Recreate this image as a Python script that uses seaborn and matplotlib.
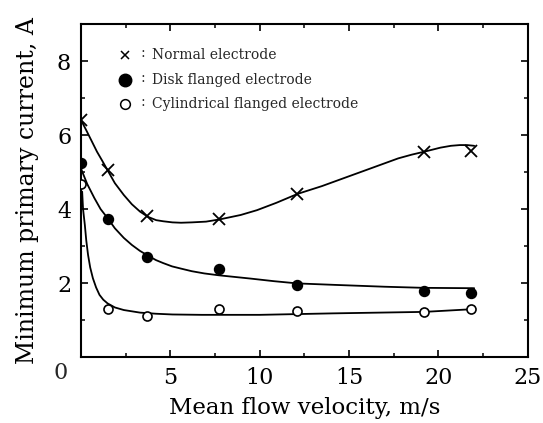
import matplotlib
matplotlib.use("Agg")
import matplotlib.pyplot as plt
import seaborn as sns
from matplotlib.ticker import MultipleLocator

# ---- data ----
velocity = [0.0, 1.5, 3.7, 7.7, 12.1, 19.2, 21.8]
normal = [6.41, 5.05, 3.82, 3.72, 4.41, 5.55, 5.57]
disk = [5.25, 3.72, 2.71, 2.37, 1.96, 1.78, 1.74]
cylindrical = [4.68, 1.29, 1.11, 1.29, 1.25, 1.22, 1.29]

# hand-drawn fitted curves
normal_curve_x = [0.0, 0.3, 0.58, 0.9, 1.2, 1.49, 1.9, 2.40, 2.85, 3.31, 3.75, 4.21,
                  4.6, 5.12, 5.6, 6.21, 7.0, 7.76, 8.94, 9.85, 10.94, 12.12, 13.48,
                  14.39, 15.93, 17.75, 18.5, 19.2, 19.7, 20.11, 20.7, 21.2, 21.6, 22.0]
normal_curve_y = [6.41, 6.13, 5.86, 5.55, 5.30, 5.05, 4.70, 4.38, 4.13, 3.93, 3.79,
                  3.70, 3.67, 3.64, 3.63, 3.64, 3.66, 3.72, 3.84, 3.97, 4.17, 4.41,
                  4.62, 4.78, 5.05, 5.37, 5.47, 5.55, 5.61, 5.66, 5.71, 5.73, 5.73,
                  5.71]
disk_curve_x = [0.0, 0.35, 0.75, 1.1, 1.5, 1.9, 2.4, 2.85, 3.3, 3.75, 4.2, 4.6, 5.1,
                5.6, 6.2, 6.9, 7.7, 8.5, 9.5, 10.8, 12.1, 14.2, 17.0, 19.2, 22.0]
disk_curve_y = [5.10, 4.68, 4.30, 4.00, 3.75, 3.48, 3.22, 3.03, 2.87, 2.74, 2.62,
                2.54, 2.45, 2.39, 2.32, 2.26, 2.21, 2.17, 2.12, 2.05, 1.99, 1.95,
                1.90, 1.87, 1.86]
cyl_curve_x = [0.07, 0.12, 0.22, 0.30, 0.40, 0.52, 0.67, 0.85, 1.04, 1.25, 1.49,
               1.9, 2.40, 3.31, 4.2, 5.12, 6.76, 10.0, 14.1, 19.2, 21.8]
cyl_curve_y = [4.47, 4.00, 3.57, 3.15, 2.76, 2.42, 2.13, 1.88, 1.68, 1.55, 1.45,
               1.34, 1.27, 1.20, 1.17, 1.15, 1.14, 1.14, 1.18, 1.22, 1.29]

legend_labels = ["Normal electrode", "Disk flanged electrode",
                 "Cylindrical flanged electrode"]
x_ticks = [5, 10, 15, 20, 25]
y_ticks = [2, 4, 6, 8]

sns.set_theme(style="ticks")
plt.rcParams["font.family"] = ["DejaVu Serif", "DejaVu Sans"]

fig = plt.figure(figsize=(5.43, 4.23), dpi=100)
ax = fig.add_axes([0.149, 0.156, 0.823, 0.787])

lw = 1.3
for cx, cy in [(normal_curve_x, normal_curve_y), (disk_curve_x, disk_curve_y),
               (cyl_curve_x, cyl_curve_y)]:
    sns.lineplot(x=cx, y=cy, ax=ax, color="black", lw=lw, sort=False,
                 estimator=None, zorder=2)

ax.plot(velocity, normal, linestyle="none", marker="x", color="black",
        markersize=8, markeredgewidth=1.3, zorder=3)
ax.plot(velocity, disk, linestyle="none", marker="o", color="black",
        markersize=7.2, zorder=3)
ax.plot(velocity, cylindrical, linestyle="none", marker="o", markerfacecolor="white",
        markeredgecolor="black", markersize=6.5, markeredgewidth=1.2, zorder=3)

# manual legend
leg_y = [8.16, 7.49, 6.84]
ax.plot([2.45], [leg_y[0]], linestyle="none", marker="x", color="black",
        markersize=6, markeredgewidth=1.1)
ax.plot([2.45], [leg_y[1]], linestyle="none", marker="o", color="black",
        markersize=9)
ax.plot([2.45], [leg_y[2]], linestyle="none", marker="o", markerfacecolor="white",
        markeredgecolor="black", markersize=7, markeredgewidth=1.1)
for yy, lab in zip(leg_y, legend_labels):
    ax.text(3.45, yy + 0.05, ":", fontsize=10, ha="center", va="center")
    ax.text(3.95, yy, lab, fontsize=10, ha="left", va="center")

ax.set_xlim(0, 25)
ax.set_ylim(0, 9)
ax.set_xticks(x_ticks)
ax.set_yticks(y_ticks)
ax.xaxis.set_minor_locator(MultipleLocator(2.5))
ax.yaxis.set_minor_locator(MultipleLocator(1))
ax.tick_params(which="both", direction="in", top=True, right=True, color="black")
ax.tick_params(which="major", length=5, width=1.2, labelsize=16, pad=7,
               labelcolor="black")
ax.tick_params(which="minor", length=3, width=1.1)
for s in ax.spines.values():
    s.set_linewidth(1.5)
    s.set_color("black")

ax.text(-1.15, -0.42, "0", fontsize=16, ha="center", va="center", clip_on=False)

ax.set_xlabel("Mean flow velocity, m/s", fontsize=16.5, labelpad=6, color="black")
ax.set_ylabel("Minimum primary current, A", fontsize=17, labelpad=13, color="black")

fig.savefig("out.png", dpi=100, facecolor="white")
